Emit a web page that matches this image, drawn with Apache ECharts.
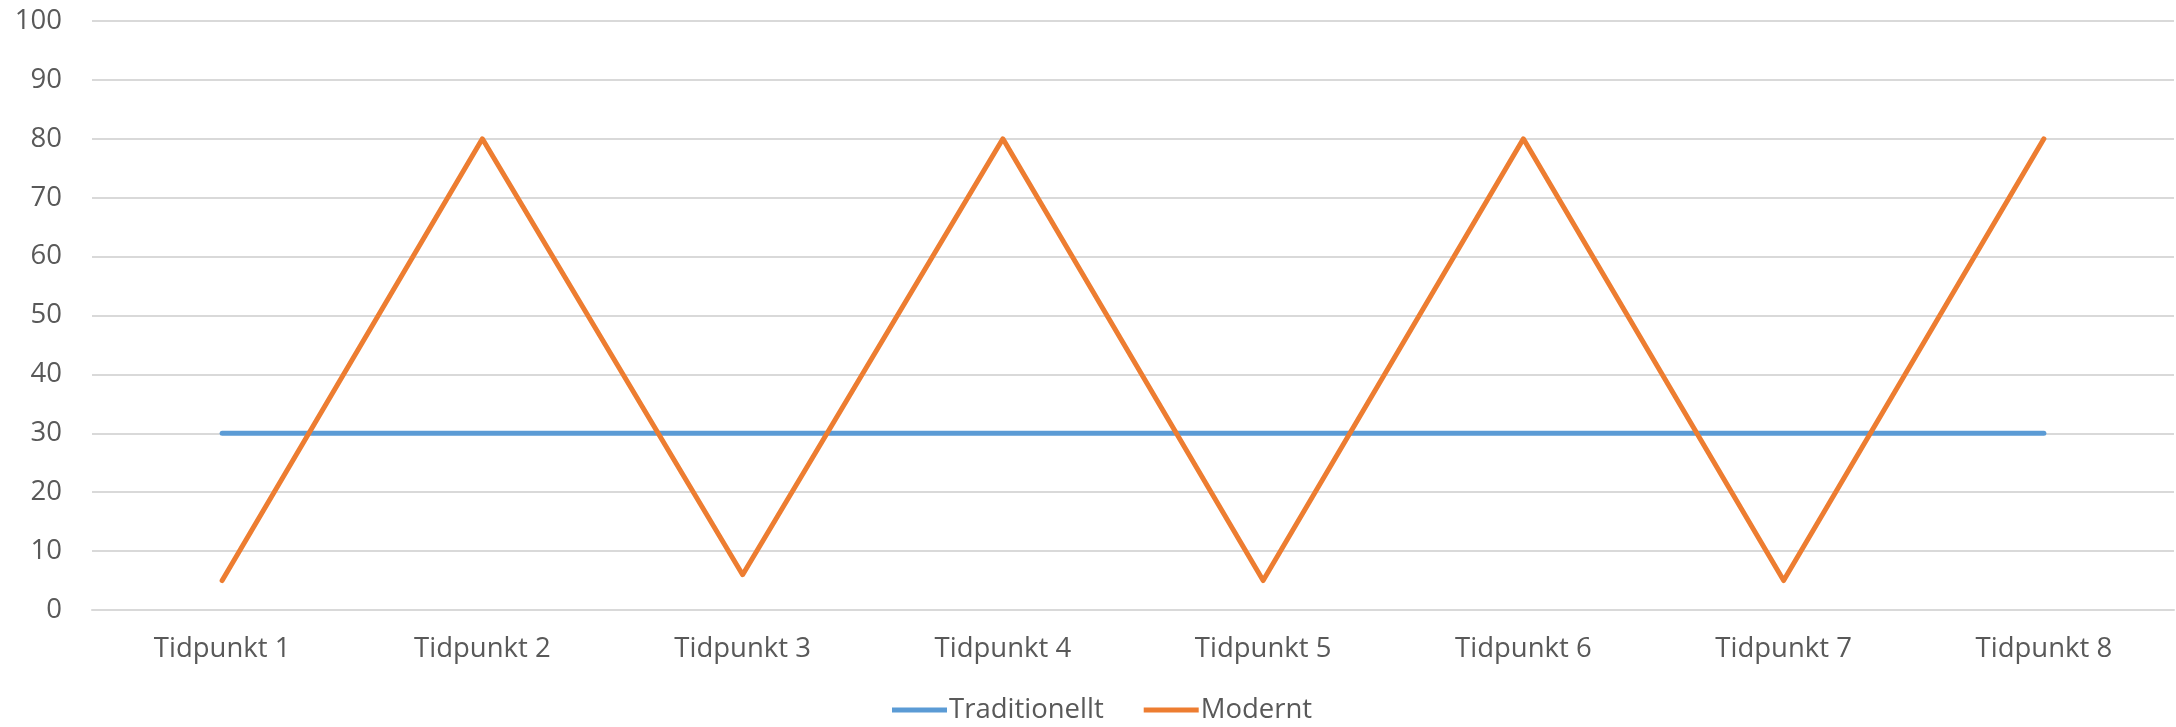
<!DOCTYPE html>
<html>
<head>
<meta charset="utf-8">
<script src="https://cdn.jsdelivr.net/npm/echarts@6/dist/echarts.min.js"></script>
<style>
    html, body { margin: 0; padding: 0; background: #fff; }
    #chart { width: 2176px; height: 727px; }
</style>
</head>
<body>
<div id="chart"></div>
<script>
var categories = ['Tidpunkt 1', 'Tidpunkt 2', 'Tidpunkt 3', 'Tidpunkt 4', 'Tidpunkt 5', 'Tidpunkt 6', 'Tidpunkt 7', 'Tidpunkt 8'];
var traditionellt = [30, 30, 30, 30, 30, 30, 30, 30];
var modernt = [5, 80, 6, 80, 5, 80, 5, 80];
var seriesNames = ['Traditionellt', 'Modernt'];

var myChart = echarts.init(document.getElementById('chart'));

var font = '"Open Sans", "Liberation Sans", sans-serif';

var option = {
    animation: false,
    color: ['#5B9BD5', '#ED7D31'],
    textStyle: { fontFamily: font },
    legend: {
        data: seriesNames,
        top: 691,
        left: 887,
        icon: 'rect',
        itemWidth: 55,
        itemHeight: 5,
        itemGap: 40,
        textStyle: { fontSize: 27.5, color: '#595959', fontFamily: font, padding: [0, 0, 0, -3] }
    },
    grid: {
        left: 92,
        right: 2,
        top: 21,
        bottom: 117
    },
    xAxis: {
        type: 'category',
        boundaryGap: true,
        data: categories,
        axisLine: { lineStyle: { color: '#D9D9D9', width: 2 } },
        axisTick: { show: false },
        axisLabel: { fontSize: 27.5, color: '#595959', margin: 25, fontFamily: font }
    },
    yAxis: {
        type: 'value',
        min: 0,
        max: 100,
        interval: 10,
        axisLine: { show: false },
        axisTick: { show: false },
        axisLabel: { fontSize: 27.5, color: '#595959', margin: 30, fontFamily: font },
        splitLine: { lineStyle: { color: '#D9D9D9', width: 2 } }
    },
    series: [{
        name: seriesNames[0],
        type: 'line',
        data: traditionellt,
        symbol: 'none',
        lineStyle: { width: 5, cap: 'round', join: 'round' }
    }, {
        name: seriesNames[1],
        type: 'line',
        data: modernt,
        symbol: 'none',
        lineStyle: { width: 5, cap: 'round', join: 'round' }
    }]
};

myChart.setOption(option);
</script>
</body>
</html>
